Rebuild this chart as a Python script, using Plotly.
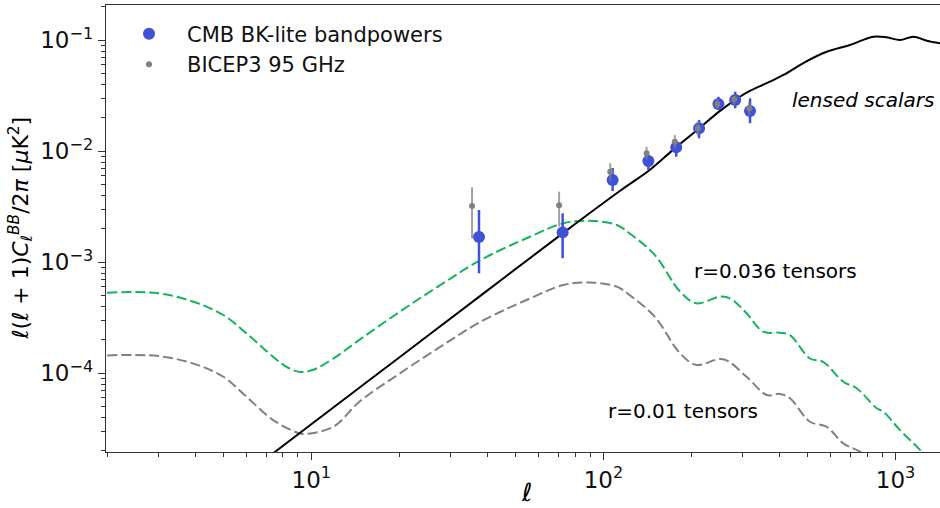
import math
import plotly.graph_objects as go

# ---------------- data ----------------
# lensed scalars (black solid)
lens_ell = [7, 10, 20, 40, 75, 115, 144, 173, 214, 250, 293, 317, 371, 413, 490,
            581, 698, 839, 932, 1035, 1150, 1278, 1419]
lens_D = [1.70e-5, 3.48e-5, 1.39e-4, 5.56e-4, 1.95e-3, 4.48e-3, 6.79e-3, 1.03e-2,
          1.63e-2, 2.30e-2, 3.10e-2, 3.50e-2, 4.24e-2, 4.87e-2, 6.37e-2, 7.89e-2,
          9.07e-2, 1.077e-1, 1.064e-1, 1.006e-1, 1.077e-1, 9.92e-2, 9.40e-2]

# r=0.036 tensors (green dashed)
r036_ell = [2, 3, 4, 5, 6, 7.4, 8.2, 9.1, 10.1, 11.9, 14.6, 20, 30, 38, 56, 73, 90,
            111, 123, 150, 183, 208, 250, 271, 309, 352, 402, 435, 509, 565, 662,
            736, 862, 908, 1035, 1212, 1310]
r036_D = [5.32e-4, 5.26e-4, 4.36e-4, 3.35e-4, 2.29e-4, 1.41e-4, 1.15e-4, 1.03e-4,
          1.07e-4, 1.36e-4, 2.0e-4, 3.56e-4, 7.17e-4, 1.05e-3, 1.70e-3, 2.25e-3,
          2.37e-3, 2.17e-3, 1.82e-3, 1.16e-3, 5.43e-4, 4.27e-4, 4.90e-4, 4.74e-4,
          3.47e-4, 2.37e-4, 2.32e-4, 2.21e-4, 1.36e-4, 1.27e-4, 8.39e-5, 7.33e-5,
          4.84e-5, 4.51e-5, 3.08e-5, 2.04e-5, 1.6e-5]

# r=0.01 tensors (gray dashed)
r001_ell = [2, 3, 4, 5, 6, 7.4, 9.1, 9.6, 11.9, 14.6, 20, 30, 38, 56, 73, 90, 111,
            123, 150, 183, 208, 257, 309, 362, 402, 435, 509, 581, 662, 755, 885]
r001_D = [1.45e-4, 1.43e-4, 1.21e-4, 9.31e-5, 6.15e-5, 3.79e-5, 2.88e-5, 2.84e-5,
          3.30e-5, 5.54e-5, 9.9e-5, 1.99e-4, 2.92e-4, 4.72e-4, 6.25e-4, 6.58e-4,
          6.03e-4, 5.06e-4, 3.22e-4, 1.51e-4, 1.19e-4, 1.34e-4, 9.31e-5, 6.38e-5,
          6.52e-5, 5.96e-5, 3.66e-5, 3.30e-5, 2.34e-5, 1.97e-5, 1.49e-5]

# CMB BK-lite bandpowers
bk_ell = [37.5, 72.5, 107.5, 142.5, 177.5, 212.5, 247.5, 282.5, 317.5]
bk_D = [1.69e-3, 1.86e-3, 5.51e-3, 8.18e-3, 1.09e-2, 1.61e-2, 2.67e-2, 2.90e-2, 2.31e-2]
bk_hi = [2.96e-3, 2.76e-3, 7.08e-3, 9.27e-3, 1.22e-2, 1.91e-2, 3.10e-2, 3.44e-2, 3.00e-2]
bk_lo = [7.96e-4, 1.09e-3, 4.38e-3, 6.79e-3, 8.93e-3, 1.31e-2, 2.36e-2, 2.44e-2, 1.79e-2]

# BICEP3 95 GHz
b3_ell = [35.5, 70.5, 105.5, 140.5, 175.5, 210.5, 245.5, 280.5, 315.5]
b3_D = [3.21e-3, 3.26e-3, 6.55e-3, 9.60e-3, 1.22e-2, 1.61e-2, 2.65e-2, 2.94e-2, 2.44e-2]
b3_hi = [4.74e-3, 4.33e-3, 7.80e-3, 1.10e-2, 1.40e-2, 1.85e-2, 2.95e-2, 3.20e-2, 2.75e-2]
b3_lo = [1.64e-3, 2.10e-3, 5.40e-3, 8.40e-3, 1.07e-2, 1.38e-2, 2.40e-2, 2.65e-2, 2.10e-2]

# axis ticks
x_decades = [1, 10, 100, 1000]
y_decades = [1e-5, 1e-4, 1e-3, 1e-2, 1e-1]
minor_mult = [2, 3, 4, 5, 6, 7, 8, 9]
x_tickvals = [10, 100, 1000]
x_ticktext = ["10<sup>1</sup>", "10<sup>2</sup>", "10<sup>3</sup>"]
y_tickvals = [1e-4, 1e-3, 1e-2, 1e-1]
y_ticktext = ["10<sup>−4</sup>", "10<sup>−3</sup>", "10<sup>−2</sup>", "10<sup>−1</sup>"]
x_minor = [d * m for d in x_decades for m in minor_mult]
y_minor = [d * m for d in y_decades for m in minor_mult]

x_range = [0.2973, 3.152]
y_range = [-4.709, -0.682]

FONT = "DejaVu Sans"
BLUE = "#3f51d6"
GREEN = "#14b45c"
GRAY = "#808080"

fig = go.Figure()

fig.add_trace(go.Scatter(x=r036_ell, y=r036_D, mode="lines", line_shape="spline",
                         line=dict(color=GREEN, width=2, dash="10px,4px"),
                         showlegend=False, hoverinfo="skip"))
fig.add_trace(go.Scatter(x=r001_ell, y=r001_D, mode="lines", line_shape="spline",
                         line=dict(color=GRAY, width=2, dash="10px,4px"),
                         showlegend=False, hoverinfo="skip"))
fig.add_trace(go.Scatter(x=lens_ell, y=lens_D, mode="lines", line_shape="spline",
                         line=dict(color="black", width=2),
                         showlegend=False, hoverinfo="skip"))

fig.add_trace(go.Scatter(
    x=bk_ell, y=bk_D, mode="markers", name="CMB BK-lite bandpowers", legendrank=1,
    marker=dict(color=BLUE, size=12),
    error_y=dict(type="data", symmetric=False,
                 array=[h - v for h, v in zip(bk_hi, bk_D)],
                 arrayminus=[v - l for l, v in zip(bk_lo, bk_D)],
                 color=BLUE, thickness=2.5, width=0)))
fig.add_trace(go.Scatter(
    x=b3_ell, y=b3_D, mode="markers", name="BICEP3 95 GHz", legendrank=2,
    marker=dict(color=GRAY, size=6),
    error_y=dict(type="data", symmetric=False,
                 array=[h - v for h, v in zip(b3_hi, b3_D)],
                 arrayminus=[v - l for l, v in zip(b3_lo, b3_D)],
                 color="rgba(128,128,128,0.75)", thickness=2, width=0)))

axis_common = dict(
    type="log", showgrid=False, zeroline=False,
    ticks="outside", ticklen=7, tickwidth=1.3, tickcolor="#333",
    showline=True, linecolor="#333", linewidth=1.3,
    tickfont=dict(family=FONT, size=23, color="#111"),
)

fig.update_xaxes(range=x_range, mirror=True, tickmode="array",
                 tickvals=x_tickvals, ticktext=x_ticktext,
                 minor=dict(tickmode="array", tickvals=x_minor, ticks="outside",
                            ticklen=4, tickwidth=1, tickcolor="#333", showgrid=False),
                 **axis_common)
fig.update_yaxes(range=y_range, mirror=False, tickmode="array",
                 tickvals=y_tickvals, ticktext=y_ticktext,
                 minor=dict(tickmode="array", tickvals=y_minor, ticks="outside",
                            ticklen=4, tickwidth=1, tickcolor="#333", showgrid=False),
                 **axis_common)

fig.add_annotation(text="<i>lensed scalars</i>", x=math.log10(435), y=-1.538,
                   xref="x", yref="y", xanchor="left", yanchor="middle", showarrow=False,
                   font=dict(family=FONT, size=20, color="black"))
fig.add_annotation(text="r=0.036 tensors", x=math.log10(201), y=-3.078,
                   xref="x", yref="y", xanchor="left", yanchor="middle", showarrow=False,
                   font=dict(family=FONT, size=20, color="black"))
fig.add_annotation(text="r=0.01 tensors", x=math.log10(102), y=-4.340,
                   xref="x", yref="y", xanchor="left", yanchor="middle", showarrow=False,
                   font=dict(family=FONT, size=20, color="black"))

fig.add_annotation(
    text="<i>ℓ</i>(<i>ℓ</i> + 1)<i>C</i><sub><i>ℓ</i></sub><sup><i>BB</i></sup>/2<i>π</i> [<i>μ</i>K<sup>2</sup>]",
    x=(20 - 106) / 834, y=0.5, xref="paper", yref="paper", textangle=-90,
    xanchor="center", yanchor="middle", showarrow=False,
    font=dict(family=FONT, size=22, color="black"))
fig.add_annotation(text="<i>ℓ</i>", x=(526 - 106) / 834, y=(452 - 492) / 447,
                   xref="paper", yref="paper", xanchor="center", yanchor="middle",
                   showarrow=False, font=dict(family=FONT, size=25, color="black"))

fig.update_layout(
    width=940, height=508,
    margin=dict(l=106, r=0, t=5, b=56),
    paper_bgcolor="white", plot_bgcolor="white",
    font=dict(family=FONT, color="black"),
    legend=dict(x=0.006, y=0.9805, xanchor="left", yanchor="top",
                bgcolor="rgba(255,255,255,0)", borderwidth=0,
                font=dict(family=FONT, size=21, color="#111"),
                itemwidth=66, tracegroupgap=0),
)

fig.write_html("out.html")
